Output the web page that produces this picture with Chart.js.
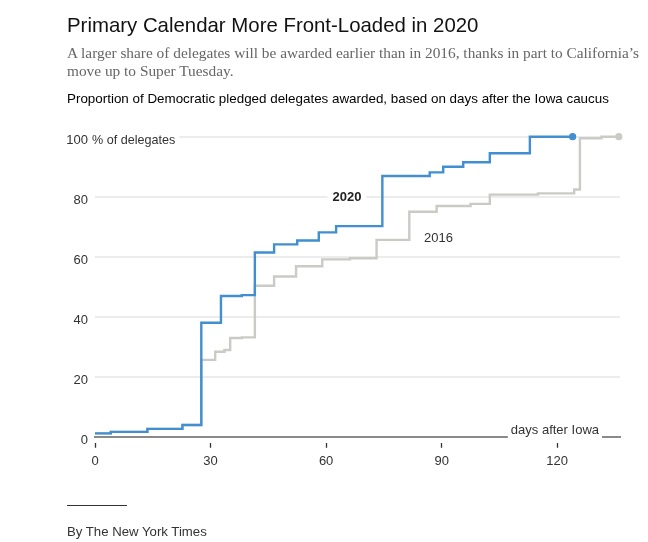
<!DOCTYPE html>
<html><head><meta charset="utf-8">
<script src="https://cdn.jsdelivr.net/npm/chart.js@4"></script>
<style>
html,body{margin:0;padding:0;background:#fff;}
body{width:648px;height:542px;position:relative;overflow:hidden;font-family:"Liberation Sans",Arial,sans-serif;}
#wrap{position:absolute;left:0;top:0;width:648px;height:542px;}
.t{position:absolute;white-space:nowrap;}
#title{left:67px;top:13px;font-size:20.4px;line-height:24px;color:#121212;}
#sub{left:67px;top:44px;font-family:"Liberation Serif",serif;font-size:15.35px;color:#666;line-height:18px;}
#lead{left:67px;top:91px;font-size:13.4px;line-height:16px;color:#000;}
#rule{position:absolute;left:67px;top:505px;width:60px;height:1px;background:#333;}
#credit{left:67px;top:524px;font-size:13.2px;line-height:16px;color:#333;}
</style></head>
<body>
<div id="wrap"><canvas id="c" width="648" height="542"></canvas></div>
<div class="t" id="title">Primary Calendar More Front-Loaded in 2020</div>
<div class="t" id="sub">A larger share of delegates will be awarded earlier than in 2016, thanks in part to California’s<br>move up to Super Tuesday.</div>
<div class="t" id="lead">Proportion of Democratic pledged delegates awarded, based on days after the Iowa caucus</div>
<div id="rule"></div>
<div class="t" id="credit">By The New York Times</div>
<script>
// Days after the Iowa caucus at which the cumulative share changes, and the new share (%)
const days2020  = [0, 4.1, 13.6, 22.7, 27.6, 32.7, 38.1, 41.5, 46.5, 52.5, 58.1, 62.6, 74.6, 86.9, 90.4, 95.6, 102.5, 112.9, 124];
const share2020 = [1.1, 1.6, 2.6, 3.9, 38, 46.9, 47.2, 61.4, 64.1, 65.4, 68.1, 70.2, 86.9, 88.1, 90, 91.5, 94.5, 100, 100];
const days2016  = [0, 4.1, 13.6, 22.7, 27.6, 31.2, 33.6, 35.1, 38.1, 41.5, 46.5, 52.2, 59, 66.2, 73.1, 81.6, 88.7, 97.5, 102.5, 115, 124.4, 125.9, 131.5, 136];
const share2016 = [1.1, 1.6, 2.6, 3.9, 25.6, 28.3, 28.9, 32.9, 33.1, 50.3, 53.4, 56.8, 59.1, 59.5, 65.6, 75, 76.9, 77.6, 80.7, 81.1, 82.4, 99.5, 100, 100];
const xTicks = [0, 30, 60, 90, 120];
const yTicks = [0, 20, 40, 60, 80, 100];
const seriesLabels = ['2020', '2016'];
const xAxisLabel = 'days after Iowa';
const yUnitLabel = '% of delegates';
const labelPos2020 = {x: 65.4, y: 79.7};
const labelPos2016 = {x: 89.2, y: 66};

const BLUE = '#418fd0', GRAY = '#cacac6';
const FONT = '"Liberation Sans", Arial, sans-serif';

function toPts(xs, ys){ return xs.map((x,i)=>({x:x, y:ys[i]})); }
function lastDot(ctx){ return ctx.dataIndex === ctx.dataset.data.length - 1 ? 3.6 : 0; }

const annot = {
  id: 'annot',
  beforeDatasetsDraw(chart){
    const ctx = chart.ctx, xs = chart.scales.x, ys = chart.scales.y, ca = chart.chartArea;
    ctx.save();
    ctx.textBaseline = 'middle';
    // unit label beside the 100 tick
    ctx.font = '12.6px ' + FONT;
    const ux = ca.left - 3, uy = ys.getPixelForValue(100) + 3.5;
    const uw = ctx.measureText(yUnitLabel).width;
    ctx.fillStyle = '#fff';
    ctx.fillRect(ux - 2, uy - 9, uw + 6, 14);
    ctx.fillStyle = '#333';
    ctx.textAlign = 'left';
    ctx.fillText(yUnitLabel, ux, uy);
    // x axis label sitting on axis
    ctx.font = '13px ' + FONT;
    const aw = ctx.measureText(xAxisLabel).width;
    const ax = ca.right - 21 - aw, ay = ca.bottom - 6.5;
    ctx.fillStyle = '#fff';
    ctx.fillRect(ax - 3, ay - 8, aw + 6, 16);
    ctx.fillStyle = '#333';
    ctx.fillText(xAxisLabel, ax, ay);
    // series labels
    ctx.textAlign = 'center';
    ctx.font = 'bold 13px ' + FONT;
    let px = xs.getPixelForValue(labelPos2020.x), py = ys.getPixelForValue(labelPos2020.y);
    let w = ctx.measureText(seriesLabels[0]).width;
    ctx.fillStyle = '#fff';
    ctx.fillRect(px - w/2 - 5, py - 8, w + 10, 16);
    ctx.fillStyle = '#222';
    ctx.fillText(seriesLabels[0], px, py);
    ctx.font = '13px ' + FONT;
    px = xs.getPixelForValue(labelPos2016.x); py = ys.getPixelForValue(labelPos2016.y);
    ctx.fillStyle = '#333';
    ctx.fillText(seriesLabels[1], px, py);
    ctx.restore();
  }
};

new Chart(document.getElementById('c'), {
  type: 'line',
  data: {
    datasets: [
      { label: seriesLabels[0], data: toPts(days2020, share2020), stepped: true, borderColor: BLUE, backgroundColor: BLUE,
        borderWidth: 2.4, pointRadius: lastDot, pointBorderWidth: 0, pointHoverRadius: 0, clip: false, fill: false },
      { label: seriesLabels[1], data: toPts(days2016, share2016), stepped: true, borderColor: GRAY, backgroundColor: GRAY,
        borderWidth: 2.4, pointRadius: lastDot, pointBorderWidth: 0, pointHoverRadius: 0, clip: false, fill: false }
    ]
  },
  options: {
    responsive: false,
    animation: false,
    devicePixelRatio: 1,
    layout: { padding: { left: 65, top: 136.7, right: 28, bottom: 65.3 }, autoPadding: false },
    plugins: { legend: { display: false }, tooltip: { enabled: false } },
    scales: {
      x: {
        type: 'linear', min: 0, max: 136.3,
        afterBuildTicks: s => { s.ticks = xTicks.map(v => ({value: v})); },
        afterFit: s => { s.height = 40; },
        border: { display: true, color: '#8a8a8a', width: 2 },
        grid: { drawOnChartArea: false, drawTicks: true, tickLength: 11, tickColor: '#333', tickWidth: 1.3, tickBorderDash: [0, 5, 6, 40] },
        ticks: { color: '#333', font: { family: FONT, size: 13 }, padding: 6, maxRotation: 0 }
      },
      y: {
        min: 0, max: 100,
        afterBuildTicks: s => { s.ticks = yTicks.map(v => ({value: v})); },
        afterFit: s => { s.width = 30; },
        border: { display: false },
        grid: { drawTicks: false, lineWidth: 2, color: c => c.tick && c.tick.value === 0 ? 'rgba(0,0,0,0)' : '#ececec' },
        ticks: { color: '#333', font: { family: FONT, size: 13 }, padding: 7, labelOffset: 3.5 }
      }
    }
  },
  plugins: [annot]
});
</script>
</body></html>
